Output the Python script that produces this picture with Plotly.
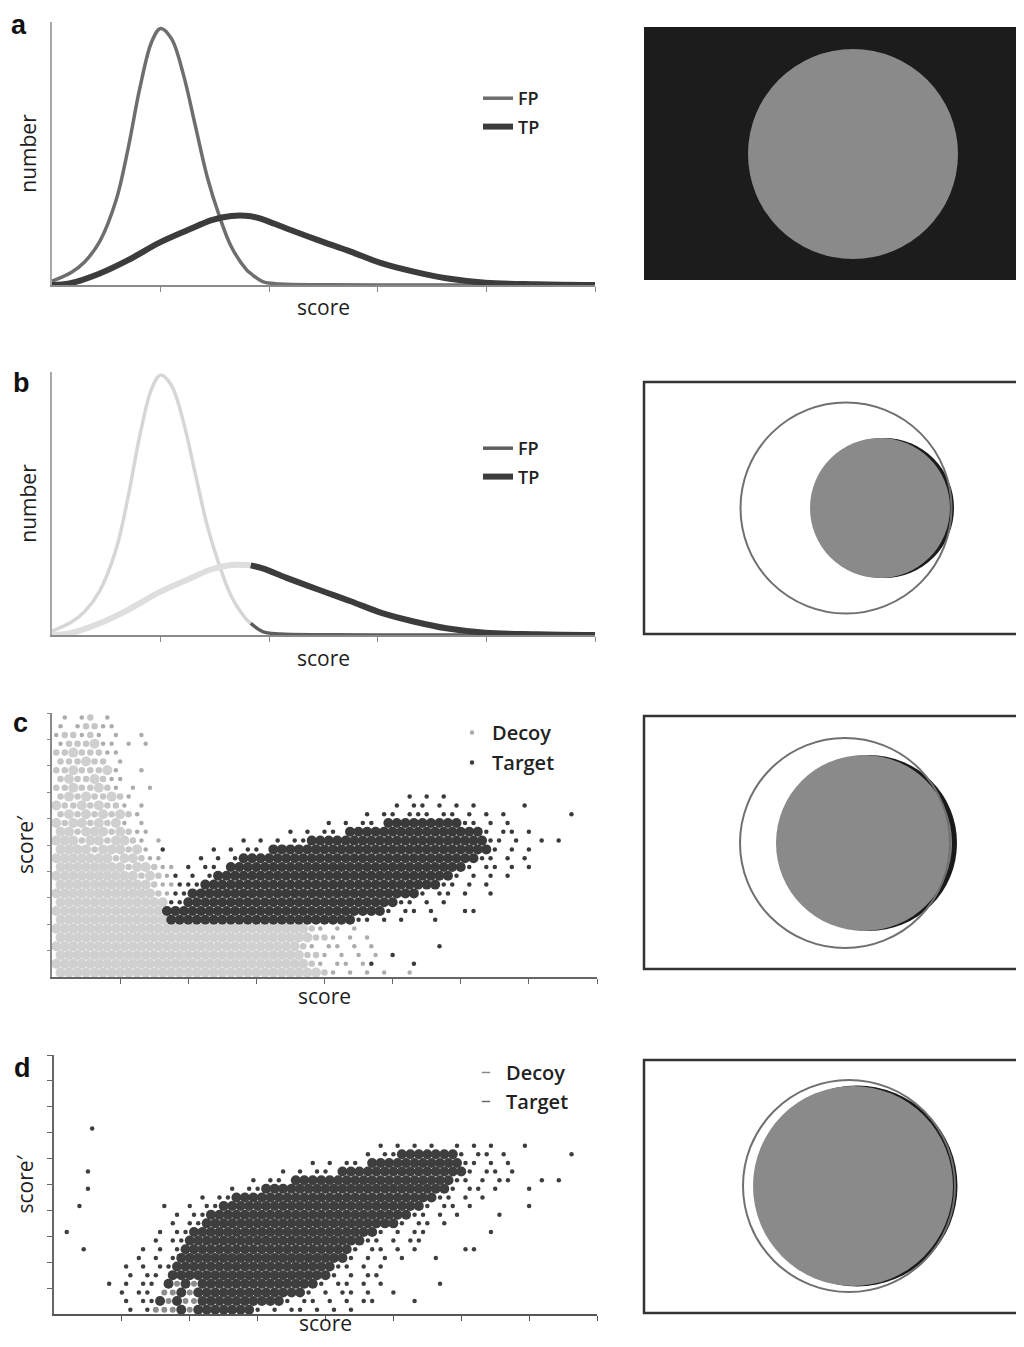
import plotly.graph_objects as go

# ---------------- data ----------------
# panels a / b : score distributions (x: score units 0-5, y: relative number, FP peak = 100)
fp_x = [0, 0.18, 0.3, 0.44, 0.59, 0.7, 0.81, 0.92, 1.0, 1.1, 1.21, 1.32, 1.43, 1.54, 1.65, 1.79, 1.83, 1.94, 2.1, 2.5, 3.0, 4.0, 5.0]
fp_y = [1.5, 5, 9, 17, 33, 53, 77, 95, 100, 96, 82, 62, 42, 27, 15, 6, 4.5, 1.3, 0.4, 0.1, 0, 0, 0]
tp_x = [0, 0.16, 0.44, 0.70, 0.99, 1.25, 1.47, 1.65, 1.83, 1.94, 2.16, 2.45, 2.75, 3.04, 3.33, 3.63, 3.99, 4.47, 5.0]
tp_y = [0, 0.6, 4.5, 9.7, 16.5, 21.4, 25.3, 26.9, 26.8, 25.6, 22, 17.5, 13, 8.4, 5.2, 2.6, 0.9, 0.3, 0]
score_cutoff = 1.83
dist_ticks = [1, 2, 3, 4, 5]

# panels c / d : scatter clouds read off the picture as an occupancy map
# grid: 64 columns of 0.125 score units, 30 rows of 1/3 score' units (row 0 = top)
# '#' dense target, '+' sparse target, 'o' dense decoy, ':' medium decoy, '.' sparse decoy
CELL_X, CELL_Y, Y_TOP = 0.125, 1 / 3, 10
scatter_ticks_x = [1, 2, 3, 4, 5, 6, 7, 8]
scatter_ticks_y = [1, 2, 3, 4, 5, 6, 7, 8, 9, 10]

c_map = {
    0: [(0, " . .: .")],
    1: [(0, ". .::..")],
    2: [(0, ".::.:. .  .")],
    3: [(0, ".:::o.. . .")],
    4: [(0, "::o:::..")],
    5: [(0, ":::o:: .")],
    6: [(0, "::o:::o.  .")],
    7: [(0, ":o::o:..")],
    8: [(0, "::o::o:. . .")],
    9: [(0, ":o:o::o:."), (41, "+ + +")],
    10: [(0, "o::o:o::. ."), (40, "+ ++ + + +"), (55, "+")],
    11: [(0, ":o:o:o:o:."), (36, "+ ++ +++ ++ + + +"), (60, "+")],
    12: [(0, "o:oo:o:o. ."), (32, "+ + ++ "), (39, "#" * 9), (48, "++ + +")],
    13: [(0, "oo:ooo:o:.."), (27, "+ + ++ +"), (34, "#" * 16), (50, "+ ++ +")],
    14: [(0, "ooo:oo:oo:. ."), (22, "+ + + ++ "), (30, "#" * 21), (51, "++ +"), (57, "+ +")],
    15: [(0, "oooo:ooo:o. "), (12, "+"), (18, "+ + ++ +"), (25, "#" * 26), (51, "+ + +")],
    16: [(0, "ooooooo:oo:.."), (17, "+ + ++"), (22, "#" * 28), (50, "++ +"), (55, "+")],
    17: [(0, "oooooooo:oo:.."), (15, "+ ++ +"), (20, "#" * 28), (48, "+ ++ +"), (55, "+")],
    18: [(0, "oooooooooo:o:."), (14, "+ + +"), (19, "#" * 28), (47, "+ + +"), (53, "+")],
    19: [(0, "ooooooooooo:.."), (14, "+++"), (17, "#" * 28), (45, "++ + +")],
    20: [(0, "oooooooooooo:."), (14, "++"), (16, "#" * 27), (43, "+ ++ +"), (51, "+")],
    21: [(0, "o" * 13), (13, "++"), (15, "#" * 25), (40, "++ + +")],
    22: [(0, "o" * 13), (13, "#" * 26), (39, "+ ++ +"), (48, "++")],
    23: [(0, "o" * 13), (13, "#" * 22), (35, "++ + +"), (44, "+")],
    24: [(0, "o" * 30), (30, ":. . .")],
    25: [(0, "o" * 30), (30, "::. . .")],
    26: [(0, "o" * 29), (29, ":. .. . ."), (45, "+")],
    27: [(0, "o" * 29), (29, "::. . . ."), (39, "+")],
    28: [(0, "o" * 30), (30, ":. .. ."), (37, "+"), (42, "+")],
    29: [(0, "o" * 31), (31, ":. . . ."), (41, ".")],
}

d_map = {
    8: [(4, "+")],
    10: [(38, "+ + + +"), (47, "+ + +"), (55, "+")],
    11: [(36, "+ ++ "), (40, "#" * 7), (47, "+ ++ +"), (60, "+")],
    12: [(30, "+ + ++ "), (37, "#" * 11), (48, "++ + +")],
    13: [(3, "+"), (26, "+ + ++ "), (33, "#" * 15), (48, "+ ++ +")],
    14: [(23, "+ ++ "), (28, "#" * 19), (47, "++ + ++"), (57, "+ +")],
    15: [(3, "+"), (20, "+ ++"), (24, "#" * 22), (46, "+ ++ +"), (55, "+")],
    16: [(17, "+ ++"), (21, "#" * 24), (45, "++ + +")],
    17: [(2, "+"), (12, "+"), (15, "+ ++"), (19, "#" * 24), (43, "+ ++ +"), (55, "+")],
    18: [(14, "+ ++"), (18, "#" * 24), (42, "++ + +"), (52, "+")],
    19: [(13, "+ ++"), (17, "#" * 23), (40, "+ ++ +")],
    20: [(1, "+"), (12, "+ ++"), (16, "#" * 22), (38, "+ + ++"), (51, "+")],
    21: [(11, "+ ++"), (15, "#" * 21), (36, "++ + ++")],
    22: [(3, "+"), (10, "+ + +"), (15, "#" * 20), (35, "+ ++ + +"), (48, "++")],
    23: [(9, "+ + +"), (14, "#" * 20), (34, "+ + + +"), (44, "+")],
    24: [(8, "+ + ++"), (14, "#" * 19), (33, "++ + +")],
    25: [(8, "+ ++ "), (13, "#" * 19), (32, "+ + ++")],
    26: [(6, "+ + ++ "), (13, "#" * 18), (31, "+ ++ + +"), (45, "+"), (14, "o o")],
    27: [(7, "+ ++ "), (12, "#" * 17), (29, "+ + ++ +"), (39, "+"), (12, "oo o")],
    28: [(8, "+ ++"), (12, "#" * 15), (27, "+ ++ + + +"), (37, "+"), (42, "+"), (13, "o oo")],
    29: [(8, "+ + "), (11, "#" * 12), (23, "+ + ++ + + +"), (11, "ooo o")],
}


def cells(rows, wanted):
    xs, ys = [], []
    for r, segs in rows.items():
        grid = {}
        for start, pat in segs:
            for i, ch in enumerate(pat):
                if ch != " ":
                    grid[start + i] = ch
        for col in sorted(grid):
            if grid[col] == wanted:
                xs.append((col + 0.5 + 0.5 * (r % 2)) * CELL_X)
                ys.append(Y_TOP - (r + 0.5) * CELL_Y)
    return xs, ys


# ---------------- layout helpers ----------------
W, H, OFF = 1008, 1331, 8
FONT = "Open Sans"


def px(x):
    return (x - OFF) / W


def py(y):
    return 1 - (y - OFF) / H


fig = go.Figure()

# ---- panel a ----
fig.add_trace(go.Scatter(x=fp_x, y=fp_y, mode="lines", line=dict(color="#6e6e6e", width=3.5, shape="spline"),
                         name="FP", legend="legend", legendgroup="a1", xaxis="x", yaxis="y"))
fig.add_trace(go.Scatter(x=tp_x, y=tp_y, mode="lines", line=dict(color="#3c3c3c", width=6, shape="spline"),
                         name="TP", legend="legend", legendgroup="a2", xaxis="x", yaxis="y"))

# ---- panel b ----
fp_lo = [(x, y) for x, y in zip(fp_x, fp_y) if x <= score_cutoff]
fp_hi = [(x, y) for x, y in zip(fp_x, fp_y) if x >= score_cutoff]
tp_lo = [(x, y) for x, y in zip(tp_x, tp_y) if x <= score_cutoff]
tp_hi = [(x, y) for x, y in zip(tp_x, tp_y) if x >= score_cutoff]
fig.add_trace(go.Scatter(x=[p[0] for p in fp_lo], y=[p[1] for p in fp_lo], mode="lines",
                         line=dict(color="#d6d6d6", width=3.5, shape="spline"), showlegend=False,
                         xaxis="x2", yaxis="y2"))
fig.add_trace(go.Scatter(x=[p[0] for p in tp_lo], y=[p[1] for p in tp_lo], mode="lines",
                         line=dict(color="#dedede", width=6, shape="spline"), showlegend=False,
                         xaxis="x2", yaxis="y2"))
fig.add_trace(go.Scatter(x=[p[0] for p in fp_hi], y=[p[1] for p in fp_hi], mode="lines",
                         line=dict(color="#5e5e5e", width=3.5, shape="spline"), name="FP",
                         legend="legend2", legendgroup="b1", xaxis="x2", yaxis="y2"))
fig.add_trace(go.Scatter(x=[p[0] for p in tp_hi], y=[p[1] for p in tp_hi], mode="lines",
                         line=dict(color="#3c3c3c", width=6, shape="spline"), name="TP",
                         legend="legend2", legendgroup="b2", xaxis="x2", yaxis="y2"))

# ---- panel c ----
BIG, MID, SMALL = 10, 6.5, 4.5
x_, y_ = cells(c_map, "o")
fig.add_trace(go.Scatter(x=x_, y=y_, mode="markers", marker=dict(size=BIG, color="#d0d0d0"),
                         showlegend=False, xaxis="x3", yaxis="y3"))
x_, y_ = cells(c_map, ":")
fig.add_trace(go.Scatter(x=x_, y=y_, mode="markers", marker=dict(size=MID, color="#c6c6c6"),
                         showlegend=False, xaxis="x3", yaxis="y3"))
x_, y_ = cells(c_map, ".")
fig.add_trace(go.Scatter(x=x_, y=y_, mode="markers", marker=dict(size=SMALL, color="#acacac"),
                         name="Decoy", legend="legend3", legendgroup="c1", xaxis="x3", yaxis="y3"))
x_, y_ = cells(c_map, "#")
fig.add_trace(go.Scatter(x=x_, y=y_, mode="markers", marker=dict(size=BIG, color="#3a3a3a"),
                         showlegend=False, xaxis="x3", yaxis="y3"))
x_, y_ = cells(c_map, "+")
fig.add_trace(go.Scatter(x=x_, y=y_, mode="markers", marker=dict(size=SMALL, color="#3a3a3a"),
                         name="Target", legend="legend3", legendgroup="c2", xaxis="x3", yaxis="y3"))

# ---- panel d ----
x_, y_ = cells(d_map, "#")
fig.add_trace(go.Scatter(x=x_, y=y_, mode="markers", marker=dict(size=BIG, color="#3e3e3e"),
                         showlegend=False, xaxis="x4", yaxis="y4"))
x_, y_ = cells(d_map, "+")
fig.add_trace(go.Scatter(x=x_, y=y_, mode="markers", marker=dict(size=SMALL, color="#3e3e3e"),
                         showlegend=False, xaxis="x4", yaxis="y4"))
x_, y_ = cells(d_map, "o")
fig.add_trace(go.Scatter(x=x_, y=y_, mode="markers", marker=dict(size=6, color="#8c8c8c"),
                         showlegend=False, xaxis="x4", yaxis="y4"))
fig.add_trace(go.Scatter(x=[None], y=[None], mode="markers", name="Decoy", legend="legend4", legendgroup="d1",
                         marker=dict(symbol="line-ew-open", size=6, color="#8a8a8a",
                                     line=dict(width=1.5, color="#8a8a8a")),
                         xaxis="x4", yaxis="y4"))
fig.add_trace(go.Scatter(x=[None], y=[None], mode="markers", name="Target", legend="legend4", legendgroup="d2",
                         marker=dict(symbol="line-ew-open", size=6, color="#6a6a6a",
                                     line=dict(width=1.5, color="#6a6a6a")),
                         xaxis="x4", yaxis="y4"))

# ---------------- axes ----------------
TITLE_FONT = dict(family=FONT, size=21, color="#1e1e1e")


def xax(dom, rng, ticks, title, col, lw, standoff, anchor):
    return dict(domain=dom, range=rng, showgrid=False, zeroline=False, showline=True, linecolor=col,
                linewidth=lw, ticks="outside", tickvals=ticks, ticklen=5, tickwidth=1.2, tickcolor=col,
                showticklabels=False, anchor=anchor,
                title=dict(text=title, font=TITLE_FONT, standoff=standoff), fixedrange=True)


def yax(dom, rng, ticks, title, col, lw, anchor, ticklen):
    return dict(domain=dom, range=rng, showgrid=False, zeroline=False, showline=True, linecolor=col,
                linewidth=lw, ticks="outside" if ticks else "", tickvals=ticks, ticklen=ticklen, tickwidth=1.2,
                tickcolor=col, showticklabels=False, anchor=anchor,
                title=dict(text=title, font=TITLE_FONT, standoff=8), fixedrange=True)


fig.update_layout(
    xaxis=xax([px(52), px(595)], [0, 5], dist_ticks, "score", "#8a8a8a", 2, 9, "y"),
    yaxis=yax([py(285), py(22)], [0, 102.5], [], "number", "#a8a8a8", 1.5, "x", 0),
    xaxis2=xax([px(52), px(595)], [0, 5], dist_ticks, "score", "#8a8a8a", 2, 10, "y2"),
    yaxis2=yax([py(635), py(372)], [0, 101.2], [], "number", "#a8a8a8", 1.5, "x2", 0),
    xaxis3=xax([px(52), px(597)], [0, 8], scatter_ticks_x, "score", "#666666", 2, 6, "y3"),
    yaxis3=yax([py(977), py(713)], [0, 10], scatter_ticks_y, "score′", "#888888", 1.5, "x3", 3),
    xaxis4=xax([px(54), px(597)], [0, 8], scatter_ticks_x, "", "#555555", 2, 4, "y4"),
    yaxis4=yax([py(1314), py(1055)], [0, 10], scatter_ticks_y, "score′", "#666666", 1.5, "x4", 5),
)
# bottom panel x title placed as text, resting on the bottom edge of the figure
fig.add_annotation(text="score", x=px(325), y=0, xref="paper", yref="paper", showarrow=False,
                   xanchor="center", yanchor="bottom", font=TITLE_FONT)

# ---------------- legends ----------------
LEG_AB = dict(family=FONT, size=18, color="#222222", weight=600)
LEG_CD = dict(family=FONT, size=20, color="#222222", weight=600)
common = dict(xanchor="left", yanchor="top", bgcolor="rgba(0,0,0,0)", borderwidth=0,
              traceorder="grouped", itemclick=False, itemdoubleclick=False)
fig.update_layout(
    legend=dict(x=px(478), y=py(80), font=LEG_AB, tracegroupgap=2, **common),
    legend2=dict(x=px(478), y=py(430), font=LEG_AB, tracegroupgap=2, **common),
    legend3=dict(x=px(452), y=py(713), font=LEG_CD, tracegroupgap=1, **common),
    legend4=dict(x=px(466), y=py(1053), font=LEG_CD, tracegroupgap=0, **common),
)

# ---------------- panel letters ----------------
for letter, (lx, ly) in {"a": (19, 25), "b": (21, 383), "c": (20, 723), "d": (22, 1068)}.items():
    fig.add_annotation(text=letter, x=px(lx), y=py(ly), xref="paper", yref="paper", showarrow=False,
                       xanchor="center", yanchor="middle",
                       font=dict(family="Liberation Sans, Arial", size=27, color="#111111", weight="bold"))

# ---------------- right-hand overlap diagrams ----------------
shapes = []


def circ(cx, cy, r, **kw):
    shapes.append(dict(type="circle", xref="paper", yref="paper", x0=px(cx - r), x1=px(cx + r),
                       y0=py(cy + r), y1=py(cy - r), **kw))


def rect(top, bottom, **kw):
    shapes.append(dict(type="rect", xref="paper", yref="paper", x0=px(644), x1=px(1040),
                       y0=py(bottom), y1=py(top), **kw))


NOLINE = dict(width=0)
# a
rect(27, 280, fillcolor="#1c1c1c", line=NOLINE)
circ(853, 154, 105, fillcolor="#8a8a8a", line=NOLINE)
# b
rect(382, 634, line=dict(color="#333333", width=2.5))
circ(884, 508, 70, fillcolor="#1a1a1a", line=NOLINE)
circ(880, 508, 70, fillcolor="#8a8a8a", line=NOLINE)
circ(846, 508, 105.5, line=dict(color="#707070", width=2))
# c
rect(716, 969, line=dict(color="#333333", width=2.5))
circ(869, 843, 88, fillcolor="#1a1a1a", line=NOLINE)
circ(864, 843, 88, fillcolor="#8a8a8a", line=NOLINE)
circ(845, 843, 105, line=dict(color="#707070", width=2))
# d
rect(1060, 1313, line=dict(color="#333333", width=2.5))
circ(857, 1186, 100.5, fillcolor="#1a1a1a", line=NOLINE)
circ(853, 1186, 100, fillcolor="#8a8a8a", line=NOLINE)
circ(849, 1186, 106, line=dict(color="#707070", width=2))

fig.update_layout(
    shapes=shapes,
    width=W, height=H, margin=dict(l=0, r=0, t=0, b=0, autoexpand=False),
    paper_bgcolor="white", plot_bgcolor="white", showlegend=True,
    font=dict(family=FONT, color="#222222"),
)

fig.write_html("out.html")
